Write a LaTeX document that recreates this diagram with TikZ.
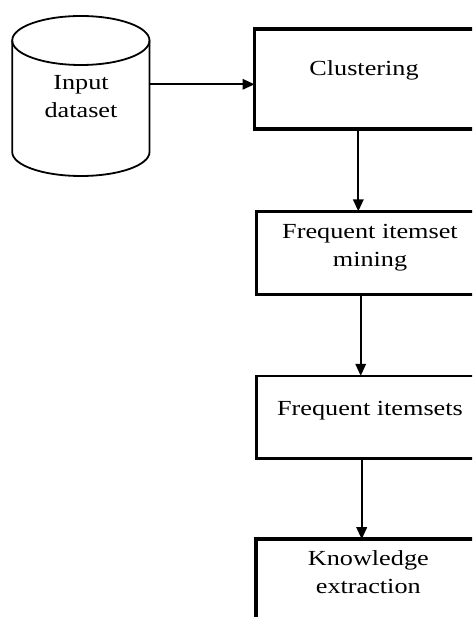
\documentclass[tikz,border=0pt]{standalone}
\usepackage{fontspec}
\setmainfont{Liberation Serif}[FakeStretch=1.22]
\usetikzlibrary{arrows.meta}
\begin{document}
\begin{tikzpicture}[x=1pt,y=-1pt,
  lbl/.style={align=center, anchor=base, inner sep=0pt,
    font=\fontsize{21.5}{28.3}\selectfont},
  procbox/.style={draw, line width=2.6pt, anchor=north west,
    inner sep=0pt, outer sep=0pt},
  keybox/.style={procbox, line width=3.8pt},
  flow/.style={line width=1.9pt, -{Triangle[length=12pt,width=10.5pt]}},
  drum/.style={line width=1.8pt}]
\useasboundingbox (0,0) rectangle (472,617);
\clip (0,0) rectangle (472,617);

% database cylinder
\draw[drum] (12.2,40.5) -- (12.2,152)
  arc[start angle=180,end angle=360,x radius=68.65,y radius=-24]
  -- (149.5,40.5);
\draw[drum] (80.85,40.5) ellipse[x radius=68.65, y radius=24.5];
% multi-line labels are placed by the baseline of their last line
\node[lbl] (db) at (81,117.5) {Input\\dataset};
\coordinate (dbout) at (149.5,84.3);

% process boxes
\node[keybox, minimum width=224pt, minimum height=99.4pt] (clus) at (254.5,29.3) {};
\node[procbox, minimum width=228pt, minimum height=83.4pt] (mine) at (256.3,211.3) {};
\node[procbox, minimum width=228pt, minimum height=82.5pt] (sets) at (256.3,375.8) {};
\node[keybox, minimum width=228pt, minimum height=100pt] (know) at (255.7,539.2) {};

\node[lbl] (tclus) at (364,75.7) {Clustering};
\node[lbl] (tmine) at (370,266.7) {Frequent itemset\\mining};
\node[lbl] (tsets) at (370,415) {Frequent itemsets};
\node[lbl] (tknow) at (368.3,593.3) {Knowledge\\extraction};

% connectors
\coordinate (c1) at (358.3,0);
\coordinate (c2) at (360.7,0);
\coordinate (c3) at (361.7,0);
\draw[flow] (dbout) -- (dbout -| clus.west);
\draw[flow] (clus.south -| c1) -- (mine.north -| c1);
\draw[flow] (mine.south -| c2) -- (sets.north -| c2);
\draw[flow] (sets.south -| c3) -- (know.north -| c3);
\end{tikzpicture}
\end{document}
